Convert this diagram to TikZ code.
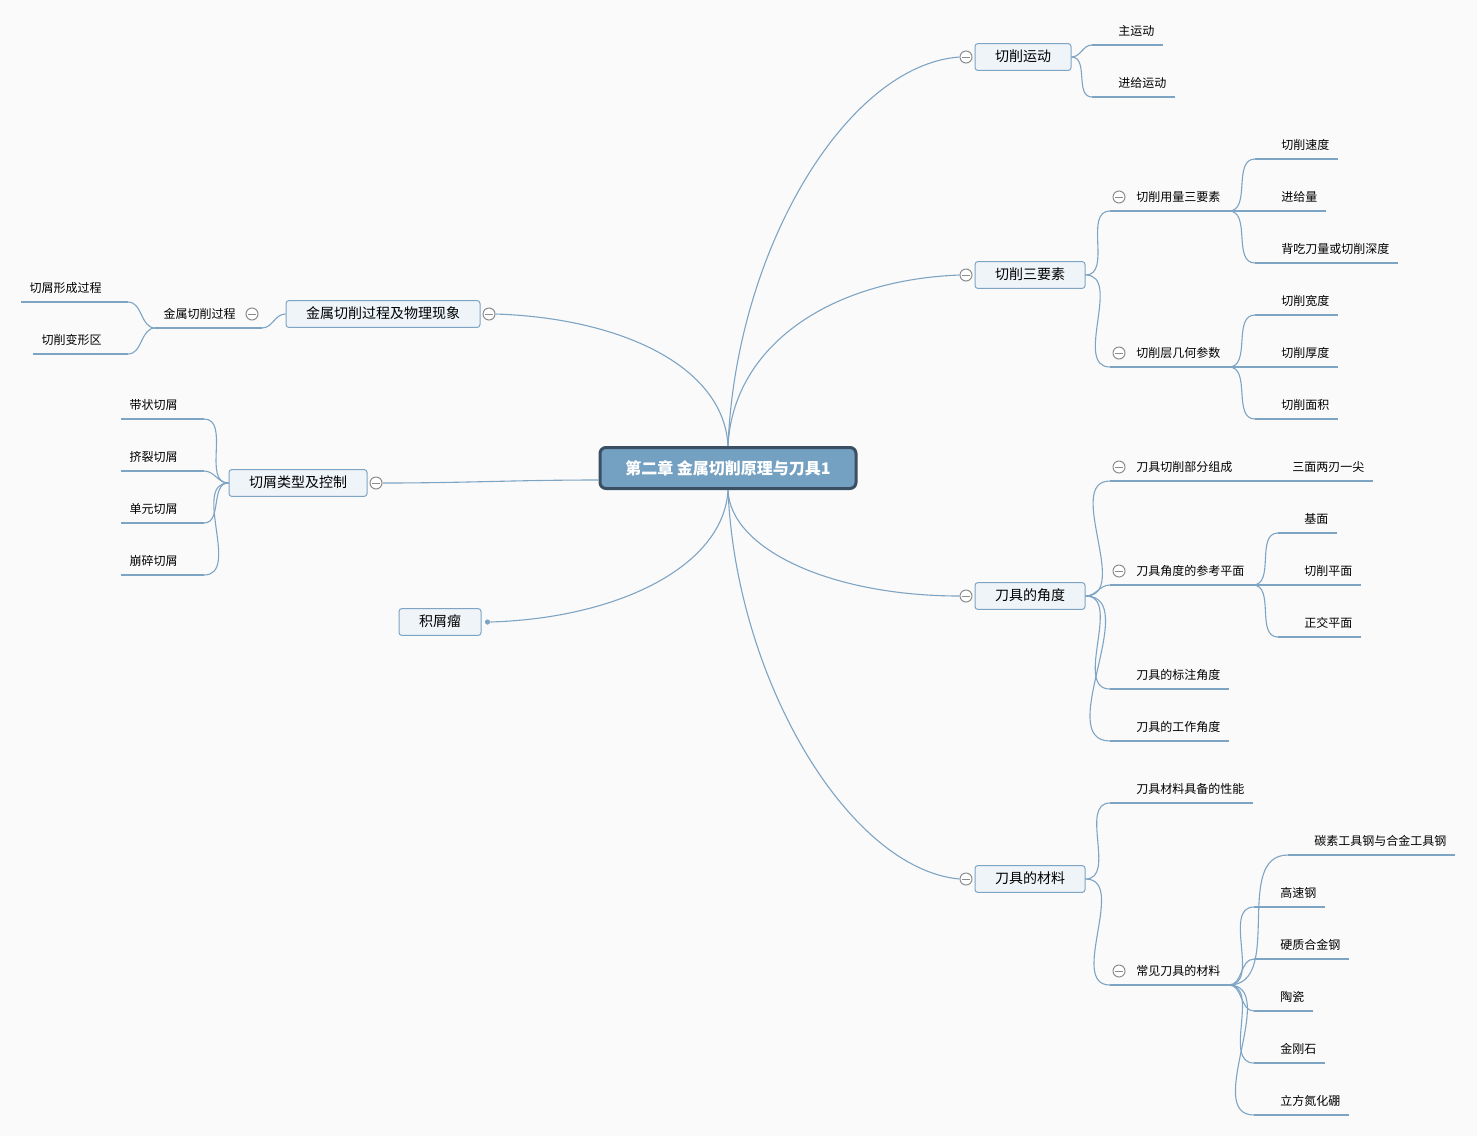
\documentclass[tikz,border=0pt]{standalone}
\definecolor{LineBlue}{RGB}{126,164,196}
\definecolor{BoxFill}{RGB}{239,244,249}
\definecolor{RootFill}{RGB}{116,161,193}
\definecolor{RootEdge}{RGB}{58,80,98}
\definecolor{FoldGray}{RGB}{140,140,140}
\definecolor{PaperBg}{RGB}{250,250,250}
\usepackage{fontspec}
\setmainfont{Noto Sans CJK SC}
\usetikzlibrary{positioning}

\begin{document}
\begin{tikzpicture}[x=0.5pt,y=-0.5pt,
    link/.style={draw=LineBlue,line width=0.55pt},
    rootbox/.style={draw=RootEdge,fill=RootFill,line width=1.5pt,rounded corners=3pt,text=white,
      font=\fontsize{8}{9}\selectfont\bfseries,minimum width=128pt,minimum height=20.5pt},
    topic/.style={draw=LineBlue,fill=BoxFill,line width=0.5pt,rounded corners=1.5pt,
      font=\fontsize{7}{8}\selectfont,inner xsep=10pt,minimum height=13pt,text height=5.6pt,text depth=1.2pt},
    leaf/.style={font=\fontsize{6}{7}\selectfont,inner xsep=4pt,inner ysep=4pt,text height=5.2pt,
      text depth=0.8pt,anchor=south west,execute at begin node={\hspace*{9pt}}},
    leafl/.style={font=\fontsize{6}{7}\selectfont,inner xsep=4pt,inner ysep=4pt,text height=5.2pt,
      text depth=0.8pt,anchor=south east,execute at end node={\hspace*{9pt}}},
    fold/.style={circle,draw=FoldGray,fill=white,line width=0.5pt,minimum size=6pt,inner sep=0pt,
      path picture={\draw[FoldGray,line width=0.5pt]
        ([xshift=-2pt]path picture bounding box.center) -- ([xshift=2pt]path picture bounding box.center);}},
    dot/.style={circle,fill=LineBlue,minimum size=2.6pt,inner sep=0pt}]

  \fill[PaperBg] (0,0) rectangle (1477,1136);

  % central topic
  \node[rootbox] (root) at (728,468) {第二章 金属切削原理与刀具1};

  % main topics
  \node[topic] (yd) at (1023,57) {切削运动};
  \node[topic] (sys) at (1030,275) {切削三要素};
  \node[topic] (jd) at (1030,596) {刀具的角度};
  \node[topic] (cl) at (1030,879) {刀具的材料};
  \node[topic,minimum width=97pt] (jsgc) at (383,314) {金属切削过程及物理现象};
  \node[topic] (qx) at (298,483) {切屑类型及控制};
  \node[topic] (jxl) at (440,622) {积屑瘤};

  \foreach \t in {yd,sys,jd,cl}
    \node[fold,left=1pt of \t] (\t-f) {};
  \foreach \t in {jsgc,qx}
    \node[fold,right=1pt of \t] (\t-f) {};
  \node[dot,right=1.5pt of jxl] (jxl-f) {};

  % right side subtopics
  \node[leaf] (zyd) at (1092,45) {主运动};
  \node[leaf] (jgyd) at (1092,97) {进给运动};

  \node[leaf] (ylsys) at (1110,211) {切削用量三要素};
  \node[leaf] (sd) at (1255,159) {切削速度};
  \node[leaf] (jgl) at (1255,211) {进给量};
  \node[leaf] (bcdl) at (1255,263) {背吃刀量或切削深度};
  \node[leaf] (qxc) at (1110,367) {切削层几何参数};
  \node[leaf] (kd) at (1255,315) {切削宽度};
  \node[leaf] (hd) at (1255,367) {切削厚度};
  \node[leaf] (mj) at (1255,419) {切削面积};

  \node[leaf] (zc) at (1110,481) {刀具切削部分组成};
  \node[leaf] (smlr) at (1266,481) {三面两刃一尖};
  \node[leaf] (ckpm) at (1110,585) {刀具角度的参考平面};
  \node[leaf] (jm) at (1278,533) {基面};
  \node[leaf] (qxpm) at (1278,585) {切削平面};
  \node[leaf] (zjpm) at (1278,637) {正交平面};
  \node[leaf] (bzjd) at (1110,689) {刀具的标注角度};
  \node[leaf] (gzjd) at (1110,741) {刀具的工作角度};

  \node[leaf] (xn) at (1110,803) {刀具材料具备的性能};
  \node[leaf] (cjcl) at (1110,985) {常见刀具的材料};
  \node[leaf] (tsg) at (1288,855) {碳素工具钢与合金工具钢};
  \node[leaf] (gsg) at (1254,907) {高速钢};
  \node[leaf] (yzhj) at (1254,959) {硬质合金钢};
  \node[leaf] (tc) at (1254,1011) {陶瓷};
  \node[leaf] (jgs) at (1254,1063) {金刚石};
  \node[leaf] (lf) at (1254,1115) {立方氮化硼};

  % left side subtopics
  \node[leafl] (jsqx) at (262,328) {金属切削过程};
  \node[leafl] (xcgc) at (128,302) {切屑形成过程};
  \node[leafl] (bxq) at (128,354) {切削变形区};
  \node[leafl] (dz) at (204,419) {带状切屑};
  \node[leafl] (jl) at (204,471) {挤裂切屑};
  \node[leafl] (dy) at (204,523) {单元切屑};
  \node[leafl] (bs) at (204,575) {崩碎切屑};

  \foreach \s in {ylsys,qxc,zc,ckpm,cjcl}
    \node[fold] (\s-f) at ([shift={(9,-14)}]\s.south west) {};
  \node[fold] (jsqx-f) at ([shift={(-10,-14)}]jsqx.south east) {};

  % underlines
  \foreach \n in {zyd,jgyd,ylsys,sd,jgl,bcdl,qxc,kd,hd,mj,zc,smlr,ckpm,jm,qxpm,zjpm,
      bzjd,gzjd,xn,cjcl,tsg,gsg,yzhj,tc,jgs,lf,jsqx,xcgc,bxq,dz,jl,dy,bs}
    \draw[link] (\n.south west) -- (\n.south east);

  % connectors from the centre
  \draw[link] (root.north) .. controls +(8,-198) and +(-112,8) .. (yd-f.west);
  \draw[link] (root.north) .. controls +(5,-100) and +(-130,5) .. (sys-f.west);
  \draw[link] (root.south) .. controls +(2,59) and +(-129,0) .. (jd-f.west);
  \draw[link] (root.south) .. controls +(8,191) and +(-110,-10) .. (cl-f.west);
  \draw[link] (root.north) .. controls +(-4,-80) and +(125,4) .. (jsgc-f.east);
  \draw[link] ([yshift=-6pt]root.west) to[out=180,in=0] (qx-f.east);
  \draw[link] (root.south) .. controls +(-4,75) and +(130,-4) .. (jxl-f.east);

  % branch connectors
  \foreach \p/\c in {yd/zyd,yd/jgyd,sys/ylsys,sys/qxc,jd/zc,jd/ckpm,jd/bzjd,jd/gzjd,cl/xn,cl/cjcl}
    \draw[link] (\p.east) to[out=0,in=180] (\c.south west);
  \foreach \p/\c in {ylsys/sd,ylsys/jgl,ylsys/bcdl,qxc/kd,qxc/hd,qxc/mj,zc/smlr,ckpm/jm,ckpm/qxpm,
      ckpm/zjpm,cjcl/tsg,cjcl/gsg,cjcl/yzhj,cjcl/tc,cjcl/jgs,cjcl/lf}
    \draw[link] (\p.south east) to[out=0,in=180] (\c.south west);
  \foreach \p/\c in {jsgc/jsqx,qx/dz,qx/jl,qx/dy,qx/bs}
    \draw[link] (\p.west) to[out=180,in=0] (\c.south east);
  \foreach \p/\c in {jsqx/xcgc,jsqx/bxq}
    \draw[link] (\p.south west) to[out=180,in=0] (\c.south east);
\end{tikzpicture}
\end{document}
